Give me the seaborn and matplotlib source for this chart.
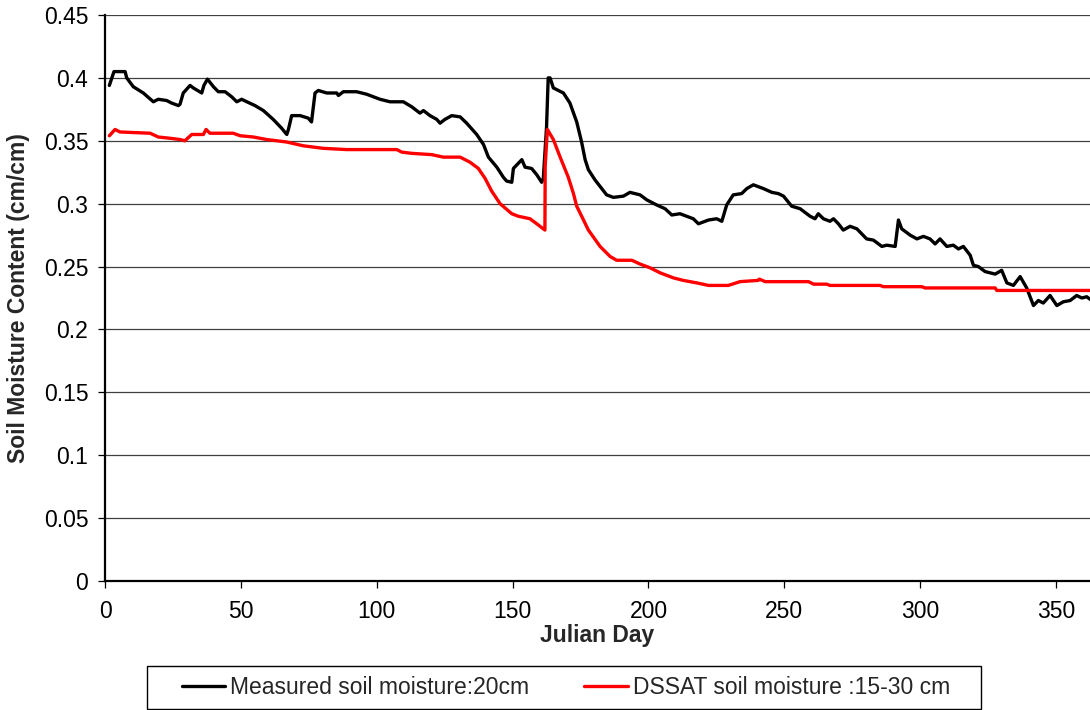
import matplotlib
matplotlib.use("Agg")
import matplotlib.pyplot as plt
from matplotlib.patches import Rectangle
import pandas as pd
import seaborn as sns

# measured soil moisture at 20 cm
measured_day = [
    1.6, 3.3, 7.4, 8.0, 10.4, 14.1, 17.8, 19.6, 22.7, 24.5,
    27.0, 27.6, 28.8, 31.3, 32.5, 35.6, 36.4, 37.7, 39.9, 41.7,
    44.2, 46.6, 48.5, 50.3, 52.2, 55.2, 58.3, 61.9, 65.0, 66.9,
    67.5, 68.7, 71.8, 74.8, 76.0, 77.3, 78.5, 81.6, 85.3, 85.9,
    87.7, 92.6, 96.3, 101.2, 104.9, 109.8, 112.9, 115.9, 117.2, 119.6,
    122.1, 123.3, 125.1, 127.6, 130.7, 133.1, 136.8, 139.3, 141.1, 144.2,
    146.6, 147.8, 149.7, 150.3, 153.4, 154.6, 157.0, 158.9, 160.7, 161.3,
    162.5, 163.1, 163.8, 165.0, 168.7, 171.1, 173.6, 175.4, 176.7, 177.9,
    180.3, 184.6, 187.1, 190.8, 193.2, 196.9, 199.4, 203.0, 206.1, 208.6,
    211.6, 216.5, 218.4, 222.1, 225.1, 227.0, 228.8, 231.2, 234.3, 236.2,
    238.6, 242.3, 245.4, 247.8, 249.7, 252.7, 255.8, 259.5, 261.3, 262.5,
    264.4, 266.8, 268.1, 269.9, 271.7, 274.2, 276.7, 280.3, 282.8, 285.9,
    287.7, 290.8, 292.0, 293.2, 296.3, 298.8, 301.2, 303.6, 305.5, 307.3,
    309.8, 312.2, 314.1, 315.9, 318.4, 319.6, 321.4, 323.9, 327.6, 330.0,
    331.9, 334.3, 336.8, 339.2, 341.7, 343.5, 345.3, 347.8, 350.3, 352.7,
    355.2, 357.6, 359.5, 361.3, 362.5,
]
measured_val = [
    0.394, 0.405, 0.405, 0.400, 0.393, 0.388, 0.381, 0.383, 0.382, 0.380,
    0.378, 0.379, 0.388, 0.394, 0.392, 0.388, 0.394, 0.399, 0.393, 0.389,
    0.389, 0.385, 0.381, 0.383, 0.381, 0.378, 0.374, 0.367, 0.360, 0.355,
    0.359, 0.370, 0.370, 0.368, 0.365, 0.388, 0.390, 0.388, 0.388, 0.386,
    0.389, 0.389, 0.387, 0.383, 0.381, 0.381, 0.377, 0.372, 0.374, 0.370,
    0.367, 0.364, 0.367, 0.370, 0.369, 0.364, 0.355, 0.347, 0.337, 0.329,
    0.321, 0.318, 0.317, 0.328, 0.335, 0.329, 0.328, 0.323, 0.317, 0.320,
    0.361, 0.400, 0.400, 0.392, 0.388, 0.380, 0.365, 0.349, 0.335, 0.327,
    0.319, 0.307, 0.305, 0.306, 0.309, 0.307, 0.303, 0.299, 0.296, 0.291,
    0.292, 0.288, 0.284, 0.287, 0.288, 0.286, 0.299, 0.307, 0.308, 0.312,
    0.315, 0.312, 0.309, 0.308, 0.306, 0.298, 0.296, 0.290, 0.288, 0.292,
    0.288, 0.286, 0.288, 0.284, 0.279, 0.282, 0.280, 0.272, 0.271, 0.266,
    0.267, 0.266, 0.287, 0.280, 0.275, 0.272, 0.274, 0.272, 0.268, 0.272,
    0.266, 0.267, 0.264, 0.266, 0.259, 0.251, 0.250, 0.246, 0.244, 0.247,
    0.237, 0.235, 0.242, 0.233, 0.219, 0.223, 0.221, 0.227, 0.219, 0.222,
    0.223, 0.227, 0.225, 0.226, 0.224,
]

# DSSAT simulated soil moisture, 15-30 cm
dssat_day = [
    1.6, 3.7, 5.5, 16.6, 19.6, 23.9, 27.6, 29.4, 31.9, 36.2,
    37.2, 38.6, 47.2, 49.7, 54.6, 59.5, 66.9, 73.0, 80.3, 89.0,
    107.4, 109.2, 112.9, 120.2, 124.5, 130.7, 134.3, 137.4, 139.9, 142.3,
    145.4, 149.7, 152.1, 156.4, 158.9, 161.9, 162.0, 162.8, 165.0, 167.5,
    170.5, 172.4, 173.6, 176.1, 177.9, 182.2, 185.9, 188.3, 193.9, 196.9,
    200.6, 204.3, 209.2, 212.8, 217.8, 222.1, 229.4, 233.7, 240.4, 240.8,
    243.0, 258.9, 260.8, 265.6, 266.8, 285.2, 286.5, 300.6, 301.8, 327.6,
    328.2, 363.0,
]
dssat_val = [
    0.354, 0.359, 0.357, 0.356, 0.353, 0.352, 0.351, 0.350, 0.355, 0.355,
    0.359, 0.356, 0.356, 0.354, 0.353, 0.351, 0.349, 0.346, 0.344, 0.343,
    0.343, 0.341, 0.340, 0.339, 0.337, 0.337, 0.333, 0.328, 0.320, 0.310,
    0.300, 0.292, 0.290, 0.288, 0.284, 0.279, 0.330, 0.359, 0.351, 0.337,
    0.321, 0.308, 0.298, 0.287, 0.279, 0.266, 0.258, 0.255, 0.255, 0.252,
    0.249, 0.245, 0.241, 0.239, 0.237, 0.235, 0.235, 0.238, 0.239, 0.240,
    0.238, 0.238, 0.236, 0.236, 0.235, 0.235, 0.234, 0.234, 0.233, 0.233,
    0.231, 0.231,
]

y_ticks = [0, 0.05, 0.1, 0.15, 0.2, 0.25, 0.3, 0.35, 0.4, 0.45]
y_tick_labels = ["0", "0.05", "0.1", "0.15", "0.2", "0.25", "0.3", "0.35", "0.4", "0.45"]
x_ticks = [0, 50, 100, 150, 200, 250, 300, 350]

measured_label = "Measured soil moisture:20cm"
dssat_label = "DSSAT soil moisture :15-30 cm"

measured = pd.DataFrame({"day": measured_day, "val": measured_val})
dssat = pd.DataFrame({"day": dssat_day, "val": dssat_val})

sns.set_style("white")
plt.rcParams["font.family"] = ["Liberation Sans", "DejaVu Sans"]

FS = 16.5
W, H = 1090, 710
fig = plt.figure(figsize=(W / 100, H / 100), dpi=100)
ax = fig.add_axes([105 / W, 1 - 581 / H, (W - 105) / W, (581 - 15) / H])

ax.grid(axis="y", color="#404040", linewidth=0.9)
ax.set_axisbelow(True)

sns.lineplot(data=measured, x="day", y="val", ax=ax, color="black",
             linewidth=2.4, label=measured_label, sort=False)
sns.lineplot(data=dssat, x="day", y="val", ax=ax, color="#ff0000",
             linewidth=2.4, label=dssat_label, sort=False)

ax.set_xlim(0, 362.5)
ax.set_ylim(0, 0.45)
ax.set_xticks(x_ticks)
ax.set_yticks(y_ticks)
ax.set_yticklabels(y_tick_labels)
ax.tick_params(axis="both", direction="out", length=5, width=0.9,
               color="black", labelsize=FS, labelcolor="black",
               left=True, bottom=True)
ax.tick_params(axis="y", pad=7)
ax.tick_params(axis="x", pad=9)

for side in ["top", "right"]:
    ax.spines[side].set_visible(False)
for side in ["left", "bottom"]:
    ax.spines[side].set_color("black")
    ax.spines[side].set_linewidth(1.6)

ax.set_xlabel("Julian Day", fontsize=FS, fontweight="bold")
ax.set_ylabel("Soil Moisture Content (cm/cm)", fontsize=FS, fontweight="bold")
ax.xaxis.set_label_coords(0.5, -0.0760)
ax.yaxis.set_label_coords(-0.0761, 0.5)

# legend below the plot, frame drawn separately to match the padding
handles, labels = ax.get_legend_handles_labels()
ax.get_legend().remove()
fig.legend(handles, labels, loc="center", bbox_to_anchor=(566 / W, 1 - 688 / H),
           ncol=2, frameon=False, fontsize=FS, handlelength=1.9,
           handletextpad=0.22, columnspacing=2.4)
fig.patches.append(Rectangle((147 / W, 1 - 709 / H), (981 - 147) / W, (709 - 666) / H,
                             transform=fig.transFigure, fill=False,
                             edgecolor="black", linewidth=1.0))

fig.savefig("out.png", dpi=100, facecolor="white")
